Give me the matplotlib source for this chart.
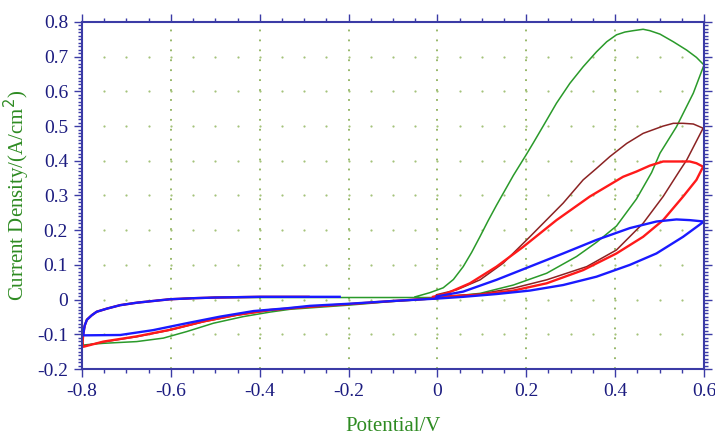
import numpy as np
import matplotlib
matplotlib.use('Agg')
from matplotlib import pyplot as plt
from matplotlib.ticker import MultipleLocator

# each loop: upper branch (start -> -0.8), lower branch (-0.8 -> 0),
# forward branch (0 -> 0.6), return branch with peak (0.6 -> ~0)
upper_v = [-0.5, -0.55, -0.602, -0.64, -0.677, -0.714, -0.744, -0.767, -0.778, -0.789, -0.794, -0.797]
upper_j = [0.006, 0.004, 0.001, -0.004, -0.009, -0.016, -0.026, -0.035, -0.045, -0.058, -0.075, -0.098]

green_v = [0.0, -0.1, -0.3] + upper_v + [-0.799,
           -0.797, -0.782, -0.752, -0.677, -0.617, -0.564, -0.504, -0.437, -0.377, -0.332, -0.2, -0.107, -0.002,
           0.021, 0.096, 0.171, 0.246, 0.313, 0.358, 0.403, 0.448, 0.482, 0.501, 0.538, 0.576, 0.6,
           0.583, 0.561, 0.531, 0.501, 0.478, 0.463, 0.441, 0.422, 0.403, 0.381, 0.358, 0.328, 0.298, 0.268,
           0.238, 0.216, 0.201, 0.171, 0.133, 0.114, 0.096, 0.077, 0.058, 0.036, 0.013, -0.017, -0.05]
green_j = [0.006, 0.006, 0.006] + upper_j + [-0.125,
           -0.131, -0.129, -0.126, -0.121, -0.111, -0.092, -0.068, -0.049, -0.036, -0.028, -0.016, -0.006, 0.003,
           0.008, 0.018, 0.042, 0.076, 0.124, 0.165, 0.212, 0.290, 0.366, 0.422, 0.498, 0.595, 0.676,
           0.698, 0.719, 0.743, 0.765, 0.775, 0.779, 0.775, 0.771, 0.763, 0.743, 0.714, 0.671, 0.623, 0.566,
           0.500, 0.452, 0.420, 0.358, 0.272, 0.227, 0.182, 0.136, 0.095, 0.058, 0.034, 0.020, 0.008]

brown_v = [-0.3, -0.4] + upper_v + [-0.799,
           -0.797, -0.782, -0.752, -0.677, -0.602, -0.527, -0.452, -0.377, -0.302, -0.2, -0.1, 0.0,
           0.021, 0.096, 0.171, 0.246, 0.336, 0.403, 0.463, 0.508, 0.546, 0.561, 0.598,
           0.576, 0.553, 0.531, 0.508, 0.463, 0.426, 0.388, 0.358, 0.328, 0.283, 0.208, 0.148, 0.096, 0.043, -0.002]
brown_j = [0.007, 0.007] + upper_j + [-0.12,
           -0.134, -0.130, -0.122, -0.107, -0.088, -0.064, -0.045, -0.031, -0.022, -0.013, -0.004, 0.004,
           0.010, 0.016, 0.033, 0.057, 0.095, 0.143, 0.220, 0.297, 0.373, 0.402, 0.494,
           0.506, 0.508, 0.508, 0.500, 0.479, 0.450, 0.412, 0.378, 0.345, 0.278, 0.181, 0.105, 0.057, 0.028, 0.014]

red_v = [-0.29, -0.4] + upper_v + [-0.799,
         -0.797, -0.782, -0.752, -0.677, -0.602, -0.527, -0.452, -0.377, -0.302, -0.2, -0.1, 0.0,
         0.021, 0.096, 0.171, 0.246, 0.328, 0.403, 0.463, 0.508, 0.553, 0.583, 0.598,
         0.583, 0.568, 0.508, 0.478, 0.448, 0.418, 0.343, 0.268, 0.193, 0.133, 0.073, 0.021, -0.01]
red_j = [0.008, 0.008] + upper_j + [-0.125,
         -0.136, -0.131, -0.121, -0.106, -0.087, -0.063, -0.044, -0.030, -0.022, -0.013, -0.004, 0.004,
         0.009, 0.014, 0.026, 0.047, 0.085, 0.133, 0.181, 0.229, 0.297, 0.345, 0.383,
         0.393, 0.398, 0.398, 0.386, 0.369, 0.354, 0.297, 0.229, 0.152, 0.095, 0.047, 0.018, 0.008]

blue_v = [-0.22, -0.4] + upper_v + [
          -0.797, -0.714, -0.64, -0.564, -0.489, -0.414, -0.339, -0.287, -0.2, -0.1, 0.0,
          0.058, 0.133, 0.208, 0.283, 0.358, 0.433, 0.493, 0.553, 0.6,
          0.568, 0.538, 0.493, 0.433, 0.358, 0.283, 0.208, 0.133, 0.058, -0.002]
blue_j = [0.008, 0.008] + upper_j + [
          -0.103, -0.102, -0.088, -0.068, -0.049, -0.033, -0.025, -0.018, -0.012, -0.004, 0.003,
          0.008, 0.016, 0.026, 0.042, 0.066, 0.100, 0.133, 0.181, 0.225,
          0.229, 0.231, 0.225, 0.206, 0.172, 0.133, 0.095, 0.057, 0.023, 0.009]

x_ticks = [-0.8, -0.6, -0.4, -0.2, 0, 0.2, 0.4, 0.6]
x_labels = ['-0.8', '-0.6', '-0.4', '-0.2', '0', '0.2', '0.4', '0.6']
y_ticks = [-0.2, -0.1, 0, 0.1, 0.2, 0.3, 0.4, 0.5, 0.6, 0.7, 0.8]
y_labels = ['-0.2', '-0.1', '0', '0.1', '0.2', '0.3', '0.4', '0.5', '0.6', '0.7', '0.8']

axis_col = '#3b3ba6'
label_col = '#1c1c80'
title_col = '#2e8b22'
grid_col = '#8fb25e'

plt.rcParams['font.family'] = ['Liberation Serif', 'DejaVu Serif']

fig = plt.figure(figsize=(7.15, 4.37), dpi=100)
ax = fig.add_axes([0.1147, 0.1556, 0.8699, 0.7941])

# dotted grid: vertical lines at major x, dot rows at major y
for xv in x_ticks[1:-1]:
    ax.axvline(xv, color=grid_col, lw=1.3, ls=(0, (1, 4.5)), zorder=0)
xm = np.arange(-0.75, 0.6, 0.05)
for yv in y_ticks[1:-1]:
    ax.plot(xm, np.full_like(xm, yv), ls='none', marker='o', ms=1.6, mew=0,
            color='#a4c37a', zorder=0)

ax.plot(green_v, green_j, color='#2a9a2a', lw=1.1)
ax.plot(brown_v, brown_j, color='#8b2323', lw=1.1)
ax.plot(red_v, red_j, color='#ff1a1a', lw=1.7)
ax.plot(blue_v, blue_j, color='#1a1aff', lw=1.7)

ax.set_xlim(-0.8, 0.6)
ax.set_ylim(-0.2, 0.8)
ax.set_xticks(x_ticks)
ax.set_xticklabels(x_labels)
ax.set_yticks(y_ticks)
ax.set_yticklabels(y_labels)
ax.xaxis.set_minor_locator(MultipleLocator(0.05))
ax.yaxis.set_minor_locator(MultipleLocator(0.01))
ax.tick_params(which='both', direction='out', color=axis_col, top=True, right=True,
               labelcolor=label_col, labelsize=14, width=1.0)
ax.tick_params(which='major', length=6, pad=4)
ax.tick_params(which='minor', length=3)
for s in ax.spines.values():
    s.set_color(axis_col)
    s.set_linewidth(1.5)

ax.set_xlabel('Potential/V', color=title_col, fontsize=15, labelpad=12)
ax.set_ylabel('Current Density/(A/cm$^2$)', color=title_col, fontsize=15, labelpad=4)

fig.savefig('out.png', dpi=100)
